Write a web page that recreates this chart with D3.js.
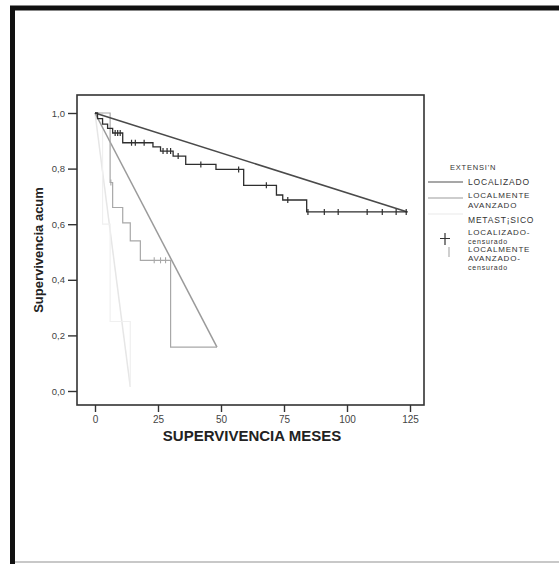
<!DOCTYPE html>
<html>
<meta charset="utf-8">
<script src="https://d3js.org/d3.v7.min.js"></script>
<style>
  body { margin: 0; background: #fff; }
  text { font-family: "Liberation Sans", Arial, sans-serif; }
</style>
<body>
<div id="plot_area"></div>
</body>
<script>

// axis ticks
var xTicks = [0, 25, 50, 75, 100, 125];
var yTicks = [0, 0.2, 0.4, 0.6, 0.8, 1.0];

// LOCALIZADO: [months, survival] after each drop
var locSteps = [[0,1],[1,0.98],[3,0.96],[5,0.945],[7,0.928],[11,0.893],[23,0.878],[26,0.863],[31,0.845],[36,0.815],[48,0.797],[59,0.74],[72,0.705],[74.5,0.687],[84,0.644]];
var locEnd = 124;
var locCens = [8,9,10,14.5,16,19.5,27,28.6,30,33,42,57,68,76.5,84.5,91,96.5,108,114,119.5,123.5];

// LOCALMENTE AVANZADO
var avzSteps = [[0,1],[6,0.75],[7,0.66],[11,0.605],[14,0.54],[18,0.47],[30,0.158]];
var avzEnd = 48.4;
var avzCens = [6.3, 23.5, 26, 28];

// METASTASICO
var metSteps = [[0,1],[3,0.6],[6,0.25],[14,0.015]];
var metEnd = 14;

var svg = d3.select("#plot_area")
  .append("svg")
    .attr("width", 559)
    .attr("height", 564);

// outer frame (scan border)
svg.append("path")
  .attr("d", "M12.5,564 V8 H559")
  .attr("fill", "none")
  .attr("stroke", "#111")
  .attr("stroke-width", 5);
svg.append("line")
  .attr("x1", 15).attr("x2", 559).attr("y1", 562).attr("y2", 562)
  .attr("stroke", "#c8c8c8").attr("stroke-width", 2);

var x = d3.scaleLinear().domain([0, 125]).range([95, 410]);
var y = d3.scaleLinear().domain([0, 1]).range([391, 113]);

var box = {left: 77, right: 424, top: 95, bottom: 405};

// plot box
svg.append("rect")
  .attr("x", box.left).attr("y", box.top)
  .attr("width", box.right - box.left).attr("height", box.bottom - box.top)
  .attr("fill", "none").attr("stroke", "#333").attr("stroke-width", 1.6);

// Y axis
var yAxis = svg.append("g")
  .attr("transform", "translate(" + box.left + ",0)")
  .call(d3.axisLeft(y).tickValues(yTicks).tickSize(9).tickPadding(3)
        .tickFormat(function(d) { return d3.format(".1f")(d).replace(".", ","); }));
yAxis.select(".domain").remove();
yAxis.selectAll("line").attr("stroke", "#333").attr("stroke-width", 1.4);
yAxis.selectAll("text").attr("font-size", 9.5).attr("fill", "#444")
  .style("font-family", "Liberation Sans, Arial, sans-serif");

// X axis
var xAxis = svg.append("g")
  .attr("transform", "translate(0," + box.bottom + ")")
  .call(d3.axisBottom(x).tickValues(xTicks).tickSize(7).tickPadding(4));
xAxis.select(".domain").remove();
xAxis.selectAll("line").attr("stroke", "#333").attr("stroke-width", 1.4);
xAxis.selectAll("text").attr("font-size", 10).attr("fill", "#444")
  .style("font-family", "Liberation Sans, Arial, sans-serif");

// axis titles
svg.append("text")
  .attr("x", 252).attr("y", 441)
  .attr("text-anchor", "middle")
  .attr("font-size", 15).attr("font-weight", "bold").attr("fill", "#222")
  .text("SUPERVIVENCIA MESES");
svg.append("text")
  .attr("transform", "translate(43,250) rotate(-90)")
  .attr("text-anchor", "middle")
  .attr("font-size", 13).attr("font-weight", "bold").attr("fill", "#222")
  .text("Supervivencia acum");

var stepLine = d3.line()
  .x(function(d) { return x(d[0]); })
  .y(function(d) { return y(d[1]); })
  .curve(d3.curveStepAfter);

function withEnd(steps, end) {
  return steps.concat([[end, steps[steps.length - 1][1]]]);
}
function survAt(steps, t) {
  var s = 1;
  steps.forEach(function(d) { if (d[0] <= t) s = d[1]; });
  return s;
}
function diag(steps, end) {
  var last = steps[steps.length - 1][1];
  return [[0, 1], [end, last]];
}
var straight = d3.line()
  .x(function(d) { return x(d[0]); })
  .y(function(d) { return y(d[1]); });

// metastasico (very faint)
svg.append("path").attr("d", straight(diag(metSteps, metEnd)))
  .attr("fill", "none").attr("stroke", "#e6e6e6").attr("stroke-width", 1.5);
svg.append("path").attr("d", stepLine(withEnd(metSteps, metEnd)))
  .attr("fill", "none").attr("stroke", "#f0f0f0").attr("stroke-width", 1.2);

// localmente avanzado
svg.append("path").attr("d", straight(diag(avzSteps, avzEnd)))
  .attr("fill", "none").attr("stroke", "#9a9a9a").attr("stroke-width", 1.5);
svg.append("path").attr("d", stepLine(withEnd(avzSteps, avzEnd)))
  .attr("fill", "none").attr("stroke", "#a8a8a8").attr("stroke-width", 1.2);
svg.append("g").selectAll("line")
  .data(avzCens)
  .enter()
  .append("line")
    .attr("x1", function(d) { return x(d); })
    .attr("x2", function(d) { return x(d); })
    .attr("y1", function(d) { return y(survAt(avzSteps, d)) - 3; })
    .attr("y2", function(d) { return y(survAt(avzSteps, d)) + 3; })
    .attr("stroke", "#a8a8a8").attr("stroke-width", 1.1);

// localizado
svg.append("path").attr("d", straight(diag(locSteps, locEnd)))
  .attr("fill", "none").attr("stroke", "#4a4a4a").attr("stroke-width", 1.6);
svg.append("path").attr("d", stepLine(withEnd(locSteps, locEnd)))
  .attr("fill", "none").attr("stroke", "#2e2e2e").attr("stroke-width", 1.3);
svg.append("g").selectAll("line")
  .data(locCens)
  .enter()
  .append("line")
    .attr("x1", function(d) { return x(d); })
    .attr("x2", function(d) { return x(d); })
    .attr("y1", function(d) { return y(survAt(locSteps, d)) - 3; })
    .attr("y2", function(d) { return y(survAt(locSteps, d)) + 3; })
    .attr("stroke", "#2e2e2e").attr("stroke-width", 1.2);

// legend
var legendText = [
  {t: "EXTENSI'N", x: 450, y: 170, s: 7.5},
  {t: "LOCALIZADO", x: 468, y: 185, s: 8.5},
  {t: "LOCALMENTE", x: 468, y: 197.5, s: 8},
  {t: "AVANZADO", x: 468, y: 207.5, s: 8},
  {t: "METAST\u00A1SICO", x: 468, y: 223, s: 8.5},
  {t: "LOCALIZADO-", x: 468, y: 235, s: 8},
  {t: "censurado", x: 468, y: 243.5, s: 7},
  {t: "LOCALMENTE", x: 468, y: 251.5, s: 8},
  {t: "AVANZADO-", x: 468, y: 261, s: 8},
  {t: "censurado", x: 468, y: 269.5, s: 7}
];
svg.append("g").selectAll("text")
  .data(legendText)
  .enter()
  .append("text")
    .attr("x", function(d) { return d.x; })
    .attr("y", function(d) { return d.y; })
    .attr("font-size", function(d) { return d.s; })
    .attr("letter-spacing", 0.8)
    .attr("fill", "#333")
    .text(function(d) { return d.t; });

var legendLines = [
  {y: 182, c: "#8a8a8a"},
  {y: 198, c: "#bdbdbd"},
  {y: 214, c: "#f0f0f0"}
];
svg.append("g").selectAll("line")
  .data(legendLines)
  .enter()
  .append("line")
    .attr("x1", 428).attr("x2", 463)
    .attr("y1", function(d) { return d.y; })
    .attr("y2", function(d) { return d.y; })
    .attr("stroke", function(d) { return d.c; })
    .attr("stroke-width", 1.3);

// censored markers in legend
svg.append("path").attr("d", "M440,238.5 H450 M445,233 V245")
  .attr("stroke", "#333").attr("stroke-width", 1.2).attr("fill", "none");
svg.append("path").attr("d", "M449,247 V257")
  .attr("stroke", "#b0b0b0").attr("stroke-width", 1.2).attr("fill", "none");

</script>
</html>
